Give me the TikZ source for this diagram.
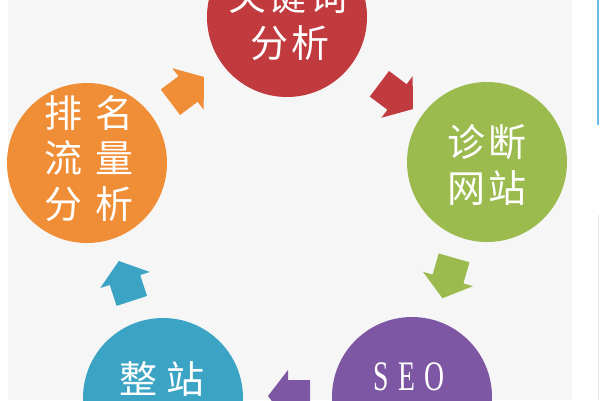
\documentclass[tikz,border=0pt]{standalone}
\usepackage{fontspec}
\usepackage{graphicx}
\newfontfamily\cjk{Noto Sans CJK SC}
\newfontfamily\seofont{Liberation Serif}
\definecolor{cred}{HTML}{C03A3E}
\definecolor{corange}{HTML}{F08E38}
\definecolor{cgreen}{HTML}{9BBB4E}
\definecolor{cpurple}{HTML}{7D57A4}
\definecolor{cteal}{HTML}{3BA4C4}
\definecolor{bggray}{HTML}{F6F6F6}
\definecolor{blueline}{HTML}{6BBCE6}
\definecolor{grayline}{HTML}{E2E2E2}
\tikzset{
  circ/.style={circle, minimum size=160pt, inner sep=0pt, draw=none},
  cjktext/.style={text=white, inner sep=0pt, font=\cjk\fontsize{38}{46}\selectfont},
  blockarrow/.pic={
    \path[pic actions] (-22,-16) -- (0,-16) -- (0,-26) -- (20,0) -- (0,26) -- (0,16) -- (-22,16) -- cycle;
  }
}
\begin{document}
\begin{tikzpicture}[x=1pt,y=-1pt]
\useasboundingbox (0,0) rectangle (600,400);
\clip (0,0) rectangle (600,400);
\fill[white] (0,0) rectangle (600,400);
\fill[bggray] (8,0) rectangle (572,400);
\draw[blueline, line width=2pt] (598,0) -- (598,125);
\draw[grayline, line width=1pt] (598,215) -- (598,400);

% circles
\node[circ, fill=cred] (kw) at (287,17) {};
\node[circ, fill=cgreen] (zd) at (487,162) {};
\node[circ, fill=cpurple] (seo) at (412,397) {};
\node[circ, fill=cteal] (zz) at (163,398) {};
\node[circ, fill=corange] (pm) at (87,163) {};

% texts
\node[cjktext] (kwa) at (288,-4) {关\hspace{3pt}键\hspace{3pt}词};
\node[cjktext] (kwb) at (290,43) {分\hspace{4pt}析};
\node[cjktext] (zda) at (487,142) {诊\hspace{3pt}断};
\node[cjktext] (zdb) at (487,188) {网\hspace{3pt}站};
\node[cjktext] (pma) at (89,113) {排\hspace{13pt}名};
\node[cjktext] (pmb) at (89,158) {流\hspace{13pt}量};
\node[cjktext] (pmc) at (89,204) {分\hspace{13pt}析};
\node[cjktext] (zza) at (162,379) {整\hspace{10pt}站};
\node[text=white, inner sep=0pt, font=\seofont\fontsize{42}{46}\selectfont] (seot) at (409,377)
  {\scalebox{0.66}[1]{S}\hspace{9pt}\scalebox{0.66}[1]{E}\hspace{9pt}\scalebox{0.66}[1]{O}};

% block arrows
\pic[fill=corange, rotate=37] at (188,89) {blockarrow};
\pic[fill=cred, rotate=-37] at (397,97) {blockarrow};
\pic[fill=cgreen, rotate=-106] at (448,279) {blockarrow};
\pic[fill=cpurple, rotate=180] at (288,396) {blockarrow};
\pic[fill=cteal, rotate=108] at (125,280) {blockarrow};
\end{tikzpicture}
\end{document}
